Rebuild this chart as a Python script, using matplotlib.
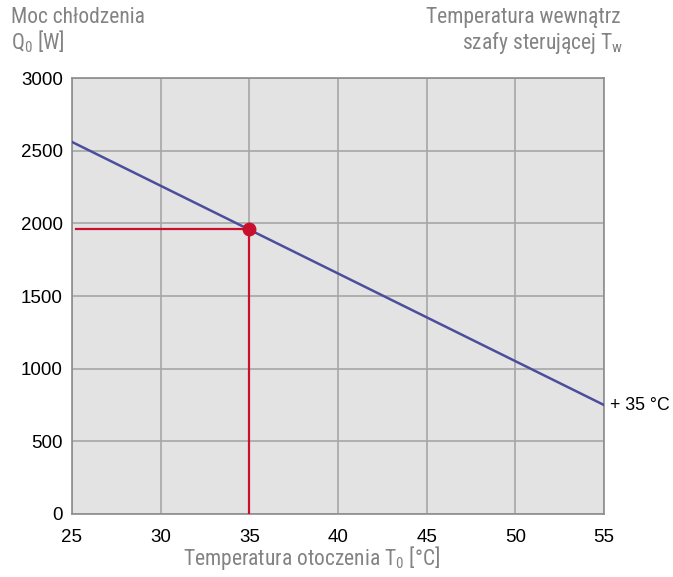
import matplotlib
matplotlib.use("Agg")
import matplotlib.pyplot as plt

cond = 'Roboto Condensed'
plt.rcParams['font.family'] = ['Liberation Sans', 'DejaVu Sans']
plt.rcParams['mathtext.fontset'] = 'custom'
plt.rcParams['mathtext.rm'] = cond

temps = [25, 55]
power = [2560, 750]
op_temp = 35
op_power = 1960
xticks = [25, 30, 35, 40, 45, 50, 55]
yticks = [0, 500, 1000, 1500, 2000, 2500, 3000]
curve_label = '+ 35 °C'

W, H = 673, 577
fig = plt.figure(figsize=(W / 100, H / 100), dpi=100)
ax = fig.add_axes([72 / W, 1 - 514 / H, (604 - 72) / W, (514 - 78) / H])
ax.set_facecolor('#e3e3e3')
ax.set_xlim(25, 55)
ax.set_ylim(0, 3000)
ax.set_xticks(xticks)
ax.set_yticks(yticks)
ax.grid(True, color='#a6a6a6', linewidth=1.2)
ax.set_axisbelow(True)
for s in ax.spines.values():
    s.set_color('#8c8c8c')
    s.set_linewidth(1.2)
ax.tick_params(length=0, labelsize=13.5, labelcolor='black')
ax.tick_params(axis='x', pad=10.5)
ax.tick_params(axis='y', pad=6.5)

ax.plot(temps, power, color='#4b4f9b', linewidth=1.8, zorder=3)
ax.plot([25.2, op_temp], [op_power, op_power], color='#c8102e', linewidth=1.6, zorder=4)
ax.plot([op_temp, op_temp], [0, op_power], color='#c8102e', linewidth=1.6, zorder=4)
ax.plot([op_temp], [op_power], 'o', color='#c8102e', markersize=9, zorder=5)

ax.text(1.012, power[1] / 3000, curve_label, transform=ax.transAxes, ha='left', va='center',
        fontsize=12.8, color='black')

gray = '#838383'
fs = 15.5
fig.text(11 / W, 1 - 23 / H, 'Moc chłodzenia', ha='left', va='baseline', fontsize=fs, color=gray, family=cond)
fig.text(11 / W, 1 - 49 / H, r'Q$_\mathregular{0}$ [W]', ha='left', va='baseline', fontsize=fs, color=gray, family=cond)
fig.text(621 / W, 1 - 23 / H, 'Temperatura wewnątrz', ha='right', va='baseline', fontsize=fs, color=gray, family=cond)
fig.text(623 / W, 1 - 49 / H, r'szafy sterującej T$_\mathregular{w}$', ha='right', va='baseline', fontsize=fs, color=gray, family=cond)
fig.text(183 / W, 1 - 565 / H, r'Temperatura otoczenia T$_\mathregular{0}$ [°C]', ha='left', va='baseline',
         fontsize=fs, color=gray, family=cond)

fig.savefig('out.png', dpi=100)
